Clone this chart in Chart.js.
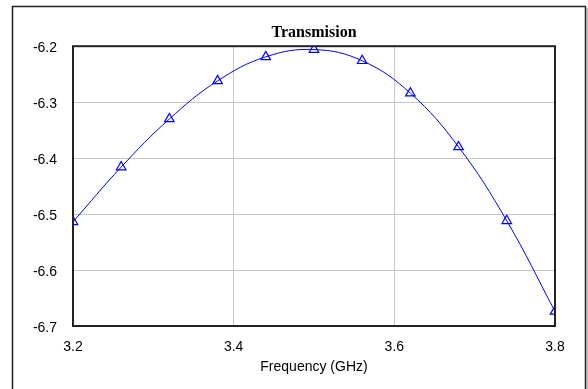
<!DOCTYPE html>
<html>
<head>
<meta charset="utf-8">
<script src="https://cdn.jsdelivr.net/npm/chart.js@4.4.0/dist/chart.umd.min.js"></script>
<style>
  html, body { margin: 0; padding: 0; background: #fff; }
  canvas { display: block; }
</style>
</head>
<body>
<canvas id="chart" width="588" height="389"></canvas>
<script>
const frequency = [3.2, 3.26, 3.32, 3.38, 3.44, 3.5, 3.56, 3.62, 3.68, 3.74, 3.8];
const transmission = [-6.514, -6.416, -6.330, -6.262, -6.219, -6.206, -6.226, -6.284, -6.380, -6.512, -6.674];
const xTicks = [3.2, 3.4, 3.6, 3.8];
const yTicks = [-6.7, -6.6, -6.5, -6.4, -6.3, -6.2];

const points = frequency.map((f, i) => ({ x: f, y: transmission[i] }));

// outer frame + plot border
const framePlugin = {
    id: 'frame',
    beforeDraw(chart) {
        const c = chart.ctx;
        c.save();
        c.fillStyle = '#fff';
        c.fillRect(0, 0, chart.width, chart.height);
        c.strokeStyle = '#222';
        c.lineWidth = 1.5;
        c.beginPath();
        c.moveTo(12.5, chart.height + 2);
        c.lineTo(12.5, 6.5);
        c.lineTo(585.5, 6.5);
        c.lineTo(585.5, chart.height + 2);
        c.stroke();
        c.strokeStyle = '#888';
        c.lineWidth = 1;
        c.beginPath();
        c.moveTo(587, 8);
        c.lineTo(587, chart.height + 2);
        c.stroke();
        c.restore();
    },
    afterDraw(chart) {
        const a = chart.chartArea;
        const c = chart.ctx;
        c.save();
        c.strokeStyle = '#222';
        c.lineWidth = 2;
        c.strokeRect(a.left, a.top, a.right - a.left, a.bottom - a.top);
        c.restore();
    }
};

new Chart(document.getElementById('chart'), {
    type: 'scatter',
    data: {
        datasets: [{
            data: points,
            showLine: true,
            borderColor: '#0000ff',
            borderWidth: 1,
            tension: 0.4,
            pointStyle: 'triangle',
            pointRadius: 5.5,
            pointBorderWidth: 1.2,
            pointBackgroundColor: 'rgba(0,0,0,0)',
            pointBorderColor: '#0000ff'
        }]
    },
    options: {
        responsive: false,
        animation: false,
        devicePixelRatio: 1,
        layout: { padding: { left: 0, right: 33, top: 0, bottom: 0 } },
        plugins: {
            legend: { display: false },
            tooltip: { enabled: false },
            title: {
                display: true,
                text: 'Transmision',
                fullSize: false,
                color: '#000',
                font: { family: '"Liberation Serif", "Times New Roman", serif', size: 16, weight: 'bold' },
                padding: { top: 23, bottom: 4 }
            }
        },
        scales: {
            x: {
                type: 'linear',
                min: 3.2,
                max: 3.8,
                afterBuildTicks: s => { s.ticks = xTicks.map(v => ({ value: v })); },
                afterFit: s => { s.height = 63; },
                border: { display: false },
                grid: { color: '#c8c8c8', lineWidth: 1, drawTicks: false },
                ticks: {
                    color: '#000',
                    padding: 13,
                    maxRotation: 0,
                    font: { family: '"Liberation Sans", Arial, sans-serif', size: 14 },
                    callback: v => v.toFixed(1)
                },
                title: {
                    display: true,
                    text: 'Frequency (GHz)',
                    color: '#000',
                    font: { family: '"Liberation Sans", Arial, sans-serif', size: 14 },
                    padding: { top: 0, bottom: 13.6 }
                }
            },
            y: {
                min: -6.7,
                max: -6.2,
                afterBuildTicks: s => { s.ticks = yTicks.map(v => ({ value: v })); },
                afterFit: s => { s.width = 73; },
                border: { display: false },
                grid: { color: '#c8c8c8', lineWidth: 1, drawTicks: false },
                ticks: {
                    color: '#000',
                    padding: 16,
                    labelOffset: 2,
                    font: { family: '"Liberation Sans", Arial, sans-serif', size: 14 },
                    callback: v => v.toFixed(1)
                }
            }
        }
    },
    plugins: [framePlugin]
});
</script>
</body>
</html>
